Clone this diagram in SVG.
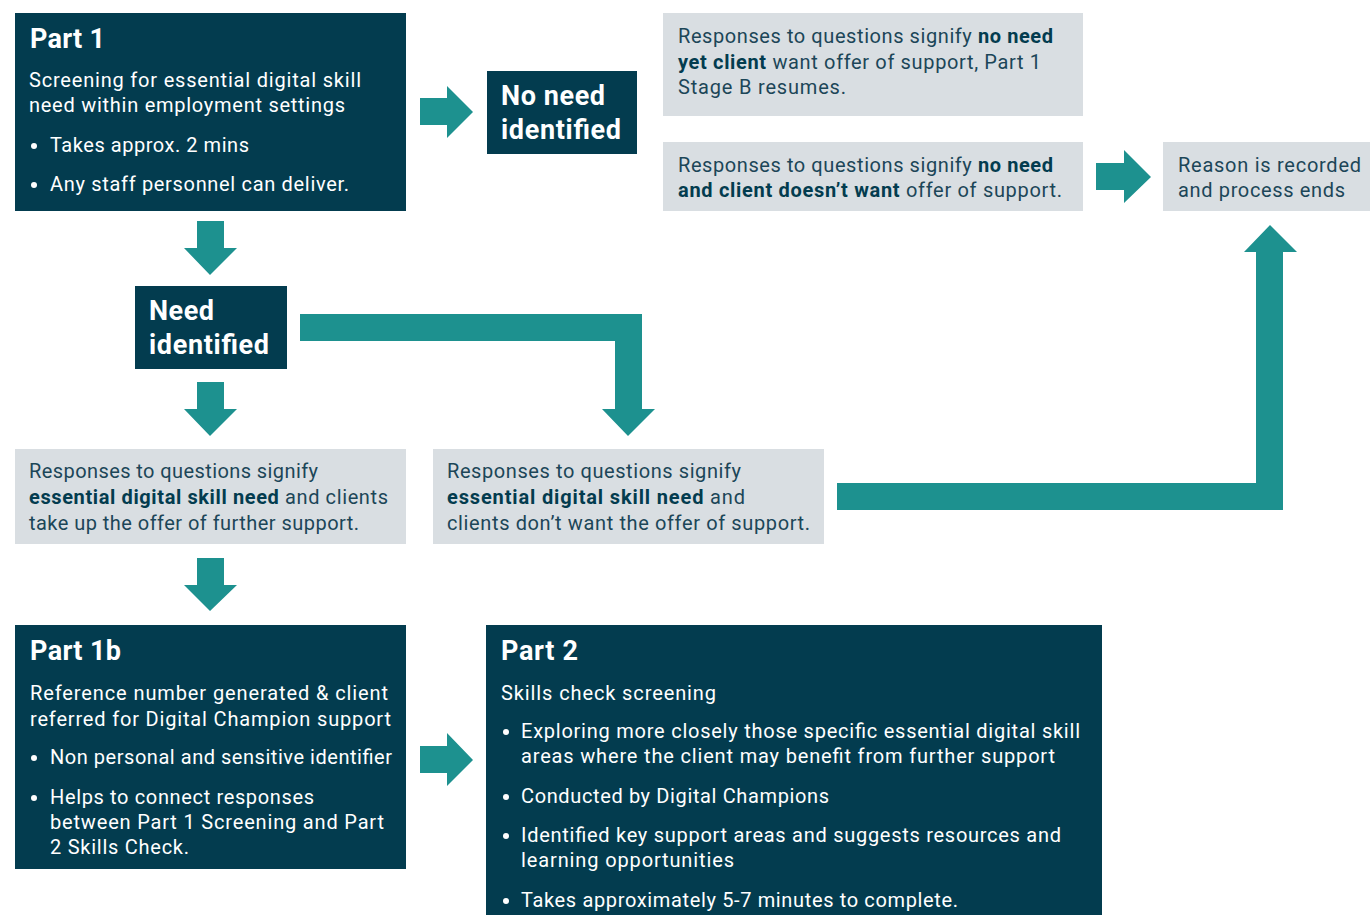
<svg xmlns="http://www.w3.org/2000/svg" width="1370" height="915" viewBox="0 0 1370 915">
<style>
.dark{fill:#033c4f}
.grey{fill:#d9dee2}
.arr{fill:#1d918f}
text{font-family:Roboto,"Liberation Sans",sans-serif}
.t{font-size:20px;fill:#ffffff}
.h{font-size:27px;font-weight:bold;fill:#ffffff}
.g{font-size:20px;fill:#1c4658}
.b{font-weight:bold;fill:#033c4f}
</style>
<rect width="1370" height="915" fill="#ffffff"/>
<g id="part1">
<rect class="dark" x="15" y="13" width="391" height="198"/>
<text class="h" x="30" y="48" textLength="75">Part 1</text>
<text class="t" x="29" y="87" textLength="332">Screening for essential digital skill</text>
<text class="t" x="29" y="112" textLength="316">need within employment settings</text>
<circle cx="34" cy="146" r="3" fill="#fff"/>
<text class="t" x="50" y="152" textLength="199">Takes approx. 2 mins</text>
<circle cx="34" cy="185" r="3" fill="#fff"/>
<text class="t" x="50" y="191" textLength="299">Any staff personnel can deliver.</text>
</g>
<g id="no-need">
<rect class="dark" x="487" y="71" width="150" height="83"/>
<text class="h" x="501" y="105" textLength="104">No need</text>
<text class="h" x="501" y="139" textLength="120">identified</text>
</g>
<g id="no-need-yet">
<rect class="grey" x="663" y="13" width="420" height="103"/>
<text class="g" x="678" y="43" textLength="375">Responses to questions signify <tspan class="b">no need</tspan></text>
<text class="g" x="678" y="69" textLength="363"><tspan class="b">yet client</tspan> want offer of support, Part 1</text>
<text class="g" x="678" y="94" textLength="168">Stage B resumes.</text>
</g>
<g id="no-need-no">
<rect class="grey" x="663" y="142" width="420" height="69"/>
<text class="g" x="678" y="172" textLength="375">Responses to questions signify <tspan class="b">no need</tspan></text>
<text class="g" x="678" y="197" textLength="384"><tspan class="b">and client doesn’t want</tspan> offer of support.</text>
</g>
<g id="reason">
<rect class="grey" x="1163" y="142" width="207" height="69"/>
<text class="g" x="1178" y="172" textLength="183">Reason is recorded</text>
<text class="g" x="1178" y="197" textLength="167">and process ends</text>
</g>
<g id="need">
<rect class="dark" x="135" y="286" width="152" height="83"/>
<text class="h" x="149" y="320" textLength="65">Need</text>
<text class="h" x="149" y="354" textLength="120">identified</text>
</g>
<g id="need-yes">
<rect class="grey" x="15" y="449" width="391" height="95"/>
<text class="g" x="29" y="478" textLength="289">Responses to questions signify</text>
<text class="g" x="29" y="504" textLength="359"><tspan class="b">essential digital skill need</tspan> and clients</text>
<text class="g" x="29" y="530" textLength="330">take up the offer of further support.</text>
</g>
<g id="need-no">
<rect class="grey" x="433" y="449" width="391" height="95"/>
<text class="g" x="447" y="478" textLength="294">Responses to questions signify</text>
<text class="g" x="447" y="504" textLength="298"><tspan class="b">essential digital skill need</tspan> and</text>
<text class="g" x="447" y="530" textLength="363">clients don’t want the offer of support.</text>
</g>
<g id="part1b">
<rect class="dark" x="15" y="625" width="391" height="244"/>
<text class="h" x="30" y="660" textLength="91">Part 1b</text>
<text class="t" x="30" y="700" textLength="358">Reference number generated &amp; client</text>
<text class="t" x="30" y="726" textLength="361">referred for Digital Champion support</text>
<circle cx="34" cy="758" r="3" fill="#fff"/>
<text class="t" x="50" y="764" textLength="342">Non personal and sensitive identifier</text>
<circle cx="34" cy="798" r="3" fill="#fff"/>
<text class="t" x="50" y="804" textLength="264">Helps to connect responses</text>
<text class="t" x="50" y="829" textLength="334">between Part 1 Screening and Part</text>
<text class="t" x="50" y="854" textLength="139">2 Skills Check.</text>
</g>
<g id="part2">
<rect class="dark" x="486" y="625" width="616" height="290"/>
<text class="h" x="501" y="660" textLength="77">Part 2</text>
<text class="t" x="501" y="700" textLength="215">Skills check screening</text>
<circle cx="506" cy="732" r="3" fill="#fff"/>
<text class="t" x="521" y="738" textLength="559">Exploring more closely those specific essential digital skill</text>
<text class="t" x="521" y="763" textLength="534">areas where the client may benefit from further support</text>
<circle cx="506" cy="797" r="3" fill="#fff"/>
<text class="t" x="521" y="803" textLength="308">Conducted by Digital Champions</text>
<circle cx="506" cy="836" r="3" fill="#fff"/>
<text class="t" x="521" y="842" textLength="540">Identified key support areas and suggests resources and</text>
<text class="t" x="521" y="867" textLength="213">learning opportunities</text>
<circle cx="506" cy="901" r="3" fill="#fff"/>
<text class="t" x="521" y="907" textLength="437">Takes approximately 5-7 minutes to complete.</text>
</g>
<g id="connectors">
<polygon class="arr" points="420,98 447,98 447,86 473,112 447,138 447,125 420,125"/>
<polygon class="arr" points="197,221 224,221 224,248 237,248 210,275 184,248 197,248"/>
<polygon class="arr" points="1096,163 1124,163 1124,150 1151,177 1124,203 1124,190 1096,190"/>
<polygon class="arr" points="197,382 224,382 224,409 237,409 210,436 184,409 197,409"/>
<polygon class="arr" points="300,314 642,314 642,409 655,409 628,436 602,409 615,409 615,341 300,341"/>
<polygon class="arr" points="197,558 224,558 224,585 237,585 210,611 184,585 197,585"/>
<polygon class="arr" points="837,483 1256,483 1256,252 1244,252 1270,225 1297,252 1283,252 1283,510 837,510"/>
<polygon class="arr" points="420,746 447,746 447,733 473,760 447,786 447,773 420,773"/>
</g>
</svg>
